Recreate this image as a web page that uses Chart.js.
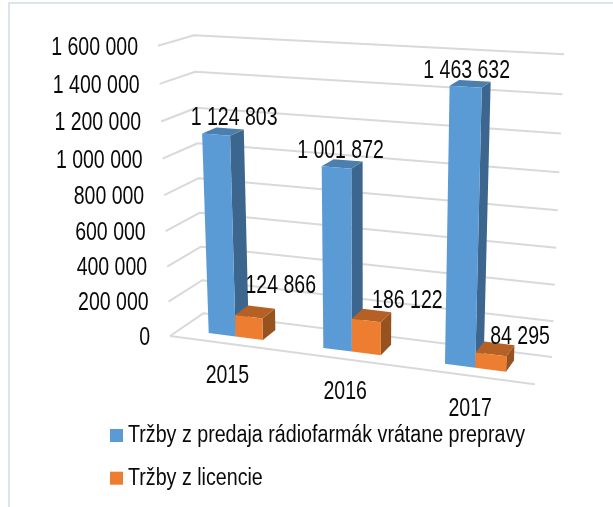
<!DOCTYPE html>
<html><head><meta charset="utf-8">
<style>html,body{margin:0;padding:0;background:#fff}#w{width:613px;height:507px;position:relative}</style>
<script src="https://cdn.jsdelivr.net/npm/chart.js@4"></script></head>
<body><div id="w"><canvas id="c" width="613" height="507"></canvas></div>
<script>
const categories = ['2015', '2016', '2017'];
const salesLabel = 'Tržby z predaja rádiofarmák vrátane prepravy';
const licenceLabel = 'Tržby z licencie';
const salesValues = [1124803, 1001872, 1463632];
const licenceValues = [124866, 186122, 84295];
const axisMax = 1600000;
const axisStep = 200000;

const FONT = '"Liberation Sans",Arial,sans-serif';
const SQUEEZE = 0.78, LEGEND_SQUEEZE = 0.855;
const fmt = v => String(v).replace(/\B(?=(\d{3})+$)/g, ' ');

function homography(p0, p1, p2, p3) {
  const dx1 = p1[0]-p2[0], dx2 = p3[0]-p2[0], sx = p0[0]-p1[0]+p2[0]-p3[0];
  const dy1 = p1[1]-p2[1], dy2 = p3[1]-p2[1], sy = p0[1]-p1[1]+p2[1]-p3[1];
  const den = dx1*dy2-dx2*dy1;
  const g = (sx*dy2-dx2*sy)/den, h = (dx1*sy-sx*dy1)/den;
  const a = p1[0]-p0[0]+g*p1[0], b = p3[0]-p0[0]+h*p3[0], c = p0[0];
  const d = p1[1]-p0[1]+g*p1[1], e = p3[1]-p0[1]+h*p3[1], f = p0[1];
  return (u, v) => { const w = g*u+h*v+1; return [(a*u+b*v+c)/w, (d*u+e*v+f)/w]; };
}
const frontPlane = homography([170,336],[534.7,384.3],[546,68],[158,45.7]);
const backPlane  = homography([203.3,313.3],[552,357],[564,54.3],[194,35.3]);
function P(u, v, d) {
  const a = frontPlane(u, v), b = backPlane(u, v);
  return [a[0]+(b[0]-a[0])*d, a[1]+(b[1]-a[1])*d];
}
const barFront = 0.30, barBack = 0.72;
const labelNudge = [[[18,-17],[4,-16],[1,-16]],[[32,-31],[41,-19],[29,-17]]];
const shades = [{side:'#3D668F', top:'#4A7FB0'},{side:'#96521F', top:'#B56024'}];

function poly(ctx, pts, fill) {
  ctx.beginPath();
  pts.forEach((p,i)=> i ? ctx.lineTo(p[0],p[1]) : ctx.moveTo(p[0],p[1]));
  ctx.closePath(); ctx.fillStyle = fill; ctx.fill();
}
function squeezedText(ctx, text, x, y, k) {
  ctx.save(); ctx.translate(x, y); ctx.scale(k, 1); ctx.fillText(text, 0, 0); ctx.restore();
}
function squeezeLabels(scale) {
  if (scale._squeezed) return;
  scale._squeezed = true;
  scale._computeLabelArea = () => undefined;
  const draw = scale.drawLabels;
  scale.drawLabels = function (ca) {
    const c = this.ctx; c.save(); c.scale(SQUEEZE, 1); draw.call(this, ca); c.restore();
  };
}

const scene = {
  id: 'scene',
  beforeDraw(chart) {
    const {ctx, chartArea: ca, scales: {x, y}} = chart;
    ctx.save();
    ctx.strokeStyle = '#DEE4EE'; ctx.lineWidth = 2;
    ctx.beginPath(); ctx.moveTo(613,3); ctx.lineTo(9,3); ctx.lineTo(9,507); ctx.stroke();
    ctx.restore();
    squeezeLabels(x); squeezeLabels(y);
    y.getLabelItems(ca).forEach((it, i) => {
      const p = P(0, y.ticks[i].value / axisMax, 0);
      it.textOffset = 0;
      it.options.translation = [(p[0]-20)/SQUEEZE, p[1]+2];
      it.options.textAlign = 'right'; it.options.textBaseline = 'middle';
    });
    x.getLabelItems(ca).forEach((it, i) => {
      const u = (x.getPixelForTick(i)-ca.left)/ca.width;
      const p = P(u, 0, 0);
      it.textOffset = 0;
      it.options.translation = [(p[0]+1)/SQUEEZE, p[1]+33];
      it.options.textAlign = 'center'; it.options.textBaseline = 'middle';
    });
  },
  beforeDatasetDraw() { return false; },
  afterDatasetsDraw(chart) {
    const {ctx, chartArea: ca, scales: {y}} = chart;
    ctx.save();
    ctx.strokeStyle = '#D9D9D9'; ctx.lineWidth = 2; ctx.lineJoin = 'round';
    y.ticks.forEach(t => {
      const v = (ca.bottom - y.getPixelForValue(t.value)) / ca.height;
      const a = P(0,v,0), b = P(0,v,1), c = P(1,v,1);
      ctx.beginPath(); ctx.moveTo(a[0],a[1]); ctx.lineTo(b[0],b[1]); ctx.lineTo(c[0],c[1]); ctx.stroke();
    });
    const f0 = P(0,0,0), f1 = P(1,0,0);
    ctx.beginPath(); ctx.moveTo(f0[0],f0[1]); ctx.lineTo(f1[0],f1[1]); ctx.stroke();

    const labels = [];
    categories.forEach((_, j) => {
      chart.data.datasets.forEach((ds, i) => {
        const el = chart.getDatasetMeta(i).data[j];
        const u0 = (el.x-el.width/2-ca.left)/ca.width, u1 = (el.x+el.width/2-ca.left)/ca.width;
        const v = (ca.bottom-el.y)/ca.height;
        const A=P(u0,0,barFront), B=P(u1,0,barFront), C=P(u1,v,barFront), D=P(u0,v,barFront);
        const E=P(u1,0,barBack), F=P(u1,v,barBack), G=P(u0,v,barBack);
        poly(ctx,[B,E,F,C],shades[i].side);
        poly(ctx,[D,C,F,G],shades[i].top);
        poly(ctx,[A,B,C,D],ds.backgroundColor);
        const n = labelNudge[i][j];
        labels.push([fmt(ds.data[j]), (C[0]+D[0])/2+n[0], (C[1]+D[1])/2+n[1]]);
      });
    });
    ctx.fillStyle = '#0A0A0A'; ctx.textAlign = 'center'; ctx.textBaseline = 'middle';
    ctx.font = '25px '+FONT;
    labels.forEach(l => squeezedText(ctx, l[0], l[1], l[2], SQUEEZE));

    ctx.textAlign = 'left'; ctx.font = '23px '+FONT;
    chart.data.datasets.forEach((ds, i) => {
      const top = 429 + i*42.7;
      ctx.fillStyle = ds.backgroundColor; ctx.fillRect(110, top, 13, 13);
      ctx.fillStyle = '#0A0A0A'; squeezedText(ctx, ds.label, 128, top+7, LEGEND_SQUEEZE);
    });
    ctx.restore();
  }
};

new Chart(document.getElementById('c'), {
  type: 'bar',
  data: { labels: categories, datasets: [
    { label: salesLabel, data: salesValues, backgroundColor: '#5B9BD5' },
    { label: licenceLabel, data: licenceValues, backgroundColor: '#ED7D31' }
  ]},
  plugins: [scene],
  options: {
    responsive: false, animation: false,
    layout: { padding: { top: 47, bottom: 80, left: 0, right: 60 } },
    plugins: { legend: { display: false }, tooltip: { enabled: false }, title: { display: false } },
    datasets: { bar: { categoryPercentage: 0.48, barPercentage: 1 } },
    scales: {
      x: { grid: { display: false }, border: { display: false },
           ticks: { color: '#0A0A0A', font: { family: FONT, size: 25 }, maxRotation: 0 },
           afterFit(s) { s.height = 90; } },
      y: { min: 0, max: axisMax, grid: { display: false }, border: { display: false },
           ticks: { stepSize: axisStep, color: '#0A0A0A', font: { family: FONT, size: 25 }, callback: v => fmt(v) },
           afterFit(s) { s.width = 200; } }
    }
  }
});
</script></body></html>
